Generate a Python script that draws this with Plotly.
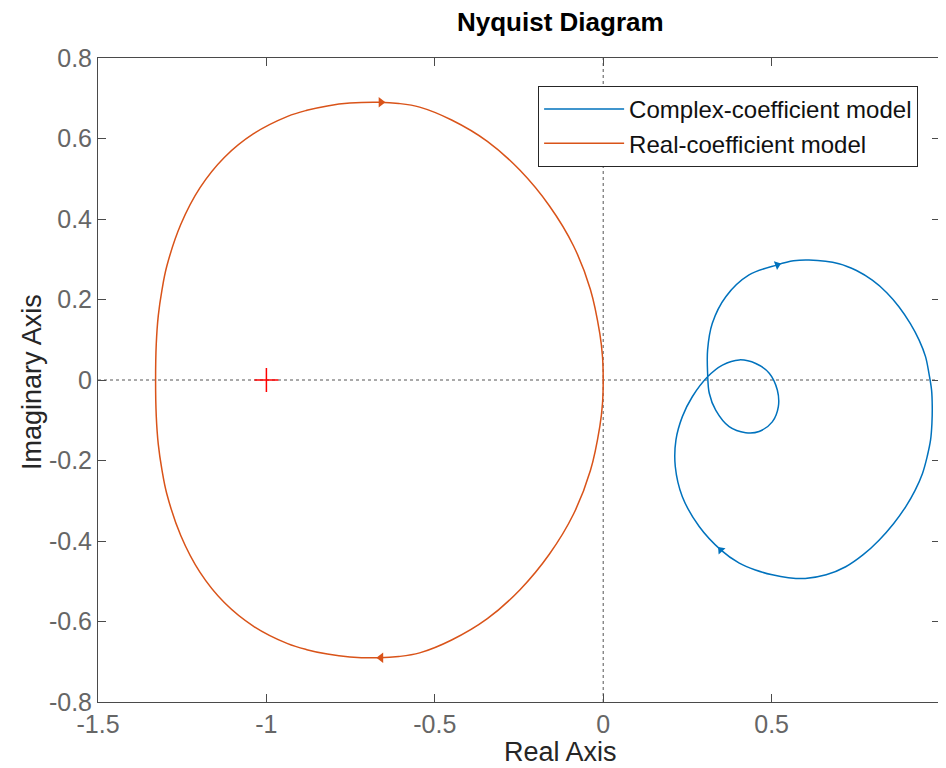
import plotly.graph_objs as go

# modelo com coeficientes reais (laço laranja)
real_x = [-1.329, -1.327, -1.321, -1.310, -1.296, -1.254, -1.197, -1.125, -1.038, -0.937,
          -0.880, -0.819, -0.752, -0.665, -0.607, -0.545, -0.450, -0.344, -0.247, -0.160,
          -0.088, -0.038, -0.010, -0.002, 0.0,
          -0.002, -0.010, -0.038, -0.088, -0.160, -0.247, -0.344, -0.450, -0.545, -0.607,
          -0.665, -0.752, -0.819, -0.880, -0.937, -1.038, -1.125, -1.197, -1.254, -1.296,
          -1.310, -1.321, -1.327, -1.329]
real_y = [0.0, 0.090, 0.160, 0.224, 0.282, 0.387, 0.478, 0.553, 0.612, 0.655,
          0.670, 0.681, 0.688, 0.690, 0.687, 0.678, 0.646, 0.593, 0.521, 0.433,
          0.333, 0.225, 0.115, 0.057, 0.0,
          -0.057, -0.115, -0.225, -0.333, -0.433, -0.521, -0.593, -0.646, -0.678, -0.687,
          -0.690, -0.688, -0.681, -0.670, -0.655, -0.612, -0.553, -0.478, -0.387, -0.282,
          -0.224, -0.160, -0.090, 0.0]

# modelo com coeficientes complexos (laço azul)
cplx_x = [0.517, 0.565, 0.611, 0.700, 0.752, 0.799, 0.842, 0.878, 0.912, 0.938,
          0.957, 0.967, 0.975, 0.977, 0.976, 0.972, 0.962, 0.948, 0.926, 0.898,
          0.862, 0.819, 0.772, 0.720, 0.662, 0.600, 0.550, 0.502, 0.452, 0.404,
          0.349, 0.285, 0.235, 0.214, 0.216, 0.235, 0.265, 0.310, 0.354, 0.404,
          0.453, 0.493, 0.517, 0.520, 0.502, 0.463, 0.423, 0.374, 0.334, 0.315,
          0.310, 0.310, 0.324, 0.364, 0.433, 0.517]
cplx_y = [0.286, 0.296, 0.298, 0.289, 0.272, 0.248, 0.217, 0.182, 0.140, 0.099,
          0.058, 0.017, -0.025, -0.066, -0.108, -0.149, -0.190, -0.232, -0.274, -0.315,
          -0.357, -0.398, -0.434, -0.464, -0.484, -0.493, -0.491, -0.484, -0.472, -0.455,
          -0.422, -0.364, -0.290, -0.215, -0.149, -0.091, -0.041, 0.008, 0.037, 0.050,
          0.041, 0.017, -0.025, -0.066, -0.104, -0.128, -0.131, -0.116, -0.075, -0.033,
          0.017, 0.075, 0.141, 0.207, 0.261, 0.286]

# setas
real_arrow_x = [-0.660, -0.660]
real_arrow_y = [0.690, -0.690]
cplx_arrow_x = [0.517, 0.349]
cplx_arrow_y = [0.286, -0.422]

azul = '#0072BD'
laranja = '#D95319'
cinza = '#555555'

curva_c = go.Scatter(x=cplx_x, y=cplx_y, mode='lines', name='Complex-coefficient model',
                     line={'color': azul, 'width': 1.5, 'shape': 'spline', 'smoothing': 1})
curva_r = go.Scatter(x=real_x, y=real_y, mode='lines', name='Real-coefficient model',
                     line={'color': laranja, 'width': 1.5, 'shape': 'spline', 'smoothing': 1})

setas_c = go.Scatter(x=cplx_arrow_x, y=cplx_arrow_y, mode='markers', showlegend=False,
                     marker={'color': azul, 'size': 8,
                             'symbol': ['triangle-right', 'triangle-left'],
                             'angle': [-20, 48]})
setas_r = go.Scatter(x=real_arrow_x, y=real_arrow_y, mode='markers', showlegend=False,
                     marker={'color': laranja, 'size': 9,
                             'symbol': ['triangle-right', 'triangle-left']})

critico = go.Scatter(x=[-1], y=[0], mode='markers', showlegend=False,
                     marker={'symbol': 'cross-thin', 'size': 17,
                             'line': {'color': '#FF0000', 'width': 1.5}})

eixo = dict(showgrid=False, zeroline=False, showline=True, linecolor='#4a4a4a',
            linewidth=1, mirror='allticks', ticks='inside', ticklen=8,
            tickcolor='#4a4a4a', tickfont={'size': 25, 'color': '#666666'})

# a página tem 8px de margem no body: figura 938x760 deslocada
layout = go.Layout(
    width=938, height=760,
    paper_bgcolor='white', plot_bgcolor='white',
    font={'family': 'Liberation Sans, Arial, sans-serif', 'color': '#262626'},
    margin={'l': 90, 'r': 6, 't': 50, 'b': 66},
    xaxis=dict(eixo, range=[-1.5, 1], tickvals=[-1.5, -1, -0.5, 0, 0.5, 1],
               ticktext=['-1.5', '-1', '-0.5', '0', '0.5', '1']),
    yaxis=dict(eixo, range=[-0.8, 0.8], tickvals=[-0.8, -0.6, -0.4, -0.2, 0, 0.2, 0.4, 0.6, 0.8],
               ticktext=['-0.8', '-0.6', '-0.4', '-0.2', '0', '0.2', '0.4', '0.6', '0.8']),
    showlegend=True,
    legend=dict(x=0.974, y=0.9565, xanchor='right', yanchor='top',
                bgcolor='white', bordercolor='#262626', borderwidth=1,
                font={'size': 24, 'color': '#111111'}, itemwidth=80,
                tracegroupgap=0),
    shapes=[dict(type='line', xref='x', yref='paper', x0=0, x1=0, y0=0, y1=1,
                 line={'color': cinza, 'width': 1, 'dash': 'dot'}, layer='below'),
            dict(type='line', xref='paper', yref='y', x0=0, x1=1, y0=0, y1=0,
                 line={'color': cinza, 'width': 1, 'dash': 'dot'}, layer='below')],
    annotations=[
        dict(text='<b>Nyquist Diagram</b>', xref='paper', yref='paper', x=0.5487, y=1.0,
             yshift=36, showarrow=False, xanchor='center', yanchor='middle',
             font={'size': 26, 'color': '#000000'}),
        dict(text='Real Axis', xref='paper', yref='paper', x=0.5487, y=0,
             yshift=-50, showarrow=False, xanchor='center', yanchor='middle',
             font={'size': 27, 'color': '#262626'}),
        dict(text='Imaginary Axis', xref='paper', yref='paper', x=0, y=0.497,
             xshift=-66, showarrow=False, textangle=-90, xanchor='center', yanchor='middle',
             font={'size': 27, 'color': '#262626'})])

fig = go.Figure(data=[curva_c, curva_r, setas_c, setas_r, critico], layout=layout)
fig.write_html("out.html")
